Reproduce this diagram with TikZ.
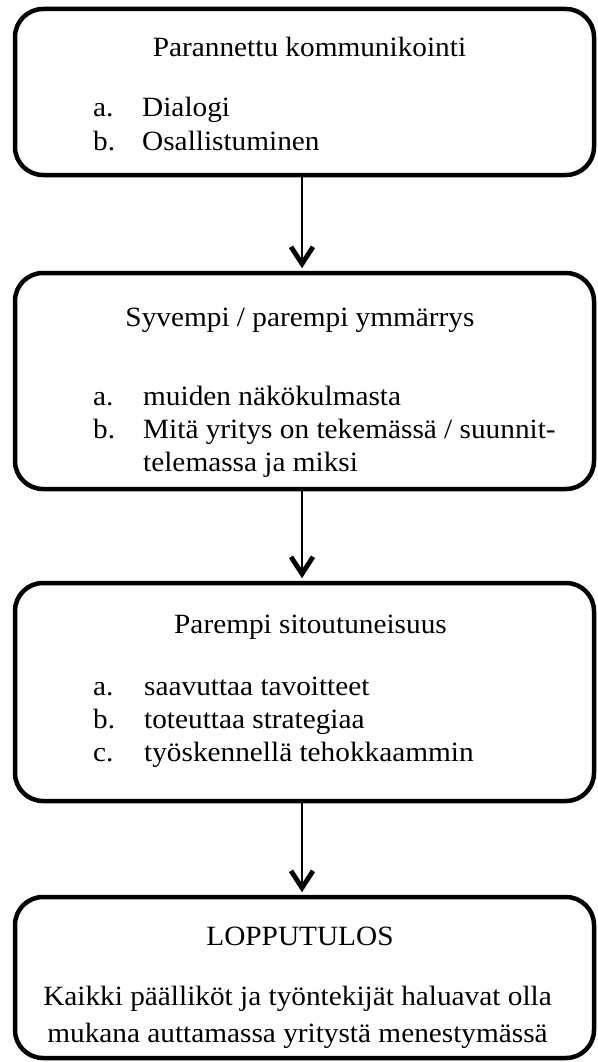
\documentclass[tikz,border=0pt]{standalone}
\usepackage{fontspec}
\setmainfont{Liberation Serif}[FakeStretch=1.05]
\usetikzlibrary{arrows.meta}

\tikzset{
  stage/.style={draw=black, line width=4.5pt, rounded corners=28pt,
    rectangle, minimum width=579pt, inner sep=0pt},
  flow/.style={draw=black, line width=2pt,
    -{Straight Barb[length=17pt, width=22pt, line width=4.8pt]},
    shorten >=2.5pt},
  txt/.style={anchor=base west, inner sep=0pt,
    font=\fontsize{27.9}{33}\selectfont},
  ctxt/.style={txt, anchor=base},
}

\begin{document}
\begin{tikzpicture}[x=1pt, y=-1pt]
\useasboundingbox (0,0) rectangle (597,1062);

% stage boxes
\node[stage, minimum height=166pt] (b1) at (304.5,92) {};
\node[stage, minimum height=216pt] (b2) at (304.5,381) {};
\node[stage, minimum height=218pt] (b3) at (304.5,692) {};
\node[stage, minimum height=161pt] (b4) at (304.5,977.5) {};

% connectors
\draw[flow] ([xshift=-2.5pt]b1.south) -- ([xshift=-2.5pt]b2.north);
\draw[flow] ([xshift=-2.5pt]b2.south) -- ([xshift=-2.5pt]b3.north);
\draw[flow] ([xshift=-2.5pt]b3.south) -- ([xshift=-2.5pt]b4.north);

% box 1
\node[ctxt] (t1) at (309.5,57) {Parannettu kommunikointi};
\node[txt] (t1a) at (93,117) {a.};
\node[txt] (t1ai) at (142,117) {Dialogi};
\node[txt] (t1b) at (93,150) {b.};
\node[txt] (t1bi) at (142,150) {Osallistuminen};

% box 2
\node[ctxt] (t2) at (300,326) {Syvempi / parempi ymmärrys};
\node[txt] (t2a) at (93,405) {a.};
\node[txt] (t2ai) at (143,405) {muiden näkökulmasta};
\node[txt] (t2b) at (93,438) {b.};
\node[txt] (t2bi) at (143,438) {Mitä yritys on tekemässä / suunnit-};
\node[txt] (t2bj) at (143,471) {telemassa ja miksi};

% box 3
\node[ctxt] (t3) at (310.5,633) {Parempi sitoutuneisuus};
\node[txt] (t3a) at (93,695) {a.};
\node[txt] (t3ai) at (144,695) {saavuttaa tavoitteet};
\node[txt] (t3b) at (93,728) {b.};
\node[txt] (t3bi) at (144,728) {toteuttaa strategiaa};
\node[txt] (t3c) at (93,761) {c.};
\node[txt] (t3ci) at (144,761) {työskennellä tehokkaammin};

% box 4
\node[ctxt] (t4) at (300,945) {LOPPUTULOS};
\node[ctxt] (t4a) at (297.5,1005) {Kaikki päälliköt ja työntekijät haluavat olla};
\node[ctxt] (t4b) at (297.5,1042) {mukana auttamassa yritystä menestymässä};
\end{tikzpicture}
\end{document}
